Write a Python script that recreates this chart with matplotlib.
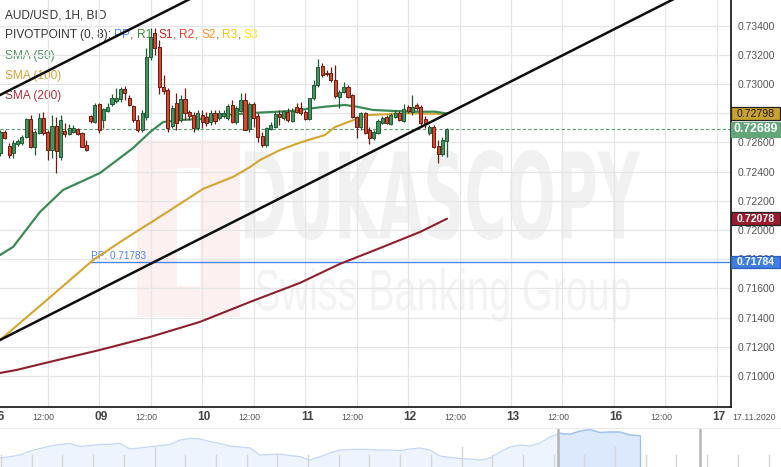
import numpy as np
import matplotlib
matplotlib.use("Agg")
import matplotlib.pyplot as plt
from matplotlib.patches import Rectangle, PathPatch
from matplotlib.textpath import TextPath
from matplotlib.font_manager import FontProperties
from matplotlib.transforms import Affine2D, blended_transform_factory

plt.rcParams['font.family'] = ['Liberation Sans', 'DejaVu Sans']

# ---------------- data ----------------
hours = np.arange(1, 106)   # hourly candles, hour index from 06 Nov 00:00 (weekend skipped)
opens = [0.72527, 0.72671, 0.72575, 0.72527, 0.72589, 0.72596, 0.72637, 0.72760, 0.72568, 0.72664,
         0.72767, 0.72671, 0.72548, 0.72712, 0.72500, 0.72678, 0.72657, 0.72671, 0.72691, 0.72664,
         0.72582, 0.72780, 0.72739, 0.72863, 0.72753, 0.72815, 0.72863, 0.72883, 0.72897, 0.72965,
         0.72904, 0.72849, 0.72753, 0.72685, 0.72774, 0.73185, 0.73349, 0.73253, 0.72979, 0.72959,
         0.72712, 0.72870, 0.72753, 0.72897, 0.72808, 0.72787, 0.72698, 0.72787, 0.72774, 0.72739,
         0.72801, 0.72767, 0.72780, 0.72767, 0.72856, 0.72739, 0.72815, 0.72890, 0.72691, 0.72863,
         0.72780, 0.72644, 0.72582, 0.72691, 0.72705, 0.72794, 0.72767, 0.72808, 0.72746, 0.72842,
         0.72835, 0.72808, 0.72760, 0.72904, 0.72993, 0.73123, 0.73075, 0.73075, 0.73027, 0.72911,
         0.72945, 0.72979, 0.72924, 0.72774, 0.72705, 0.72801, 0.72685, 0.72630, 0.72664, 0.72733,
         0.72774, 0.72726, 0.72774, 0.72801, 0.72746, 0.72842, 0.72808, 0.72856, 0.72842, 0.72760,
         0.72664, 0.72705, 0.72575, 0.72520, 0.72609]
highs = [0.72685, 0.72685, 0.72596, 0.72616, 0.72623, 0.72650, 0.72767, 0.72787, 0.72685, 0.72801,
         0.72808, 0.72685, 0.72787, 0.72774, 0.72787, 0.72733, 0.72726, 0.72719, 0.72698, 0.72671,
         0.72616, 0.72787, 0.72870, 0.72870, 0.72835, 0.72870, 0.72931, 0.72972, 0.72979, 0.72986,
         0.72924, 0.72856, 0.72787, 0.72822, 0.73246, 0.73384, 0.73384, 0.73301, 0.73061, 0.72972,
         0.72856, 0.72938, 0.72924, 0.72972, 0.72822, 0.72808, 0.72822, 0.72822, 0.72808, 0.72822,
         0.72822, 0.72822, 0.72822, 0.72863, 0.72890, 0.72849, 0.72938, 0.72938, 0.72876, 0.72876,
         0.72801, 0.72671, 0.72705, 0.72739, 0.72808, 0.72822, 0.72822, 0.72835, 0.72835, 0.72870,
         0.72876, 0.72822, 0.72904, 0.73027, 0.73171, 0.73144, 0.73096, 0.73116, 0.73130, 0.72959,
         0.73014, 0.72993, 0.72931, 0.72780, 0.72808, 0.72808, 0.72705, 0.72685, 0.72760, 0.72780,
         0.72787, 0.72801, 0.72822, 0.72815, 0.72863, 0.72856, 0.72924, 0.72870, 0.72856, 0.72780,
         0.72719, 0.72719, 0.72616, 0.72637, 0.72698]
lows = [0.72507, 0.72623, 0.72493, 0.72493, 0.72575, 0.72582, 0.72630, 0.72561, 0.72513, 0.72657,
        0.72650, 0.72479, 0.72493, 0.72390, 0.72479, 0.72637, 0.72650, 0.72664, 0.72650, 0.72568,
        0.72541, 0.72733, 0.72733, 0.72664, 0.72698, 0.72808, 0.72849, 0.72870, 0.72876, 0.72890,
        0.72849, 0.72739, 0.72671, 0.72671, 0.72753, 0.73164, 0.73198, 0.72931, 0.72931, 0.72671,
        0.72698, 0.72685, 0.72739, 0.72753, 0.72753, 0.72671, 0.72685, 0.72698, 0.72712, 0.72719,
        0.72726, 0.72753, 0.72767, 0.72753, 0.72733, 0.72726, 0.72808, 0.72685, 0.72671, 0.72705,
        0.72602, 0.72568, 0.72568, 0.72685, 0.72698, 0.72719, 0.72753, 0.72739, 0.72739, 0.72801,
        0.72787, 0.72753, 0.72753, 0.72890, 0.72979, 0.73048, 0.73055, 0.73014, 0.72904, 0.72835,
        0.72938, 0.72904, 0.72767, 0.72630, 0.72685, 0.72657, 0.72589, 0.72616, 0.72657, 0.72726,
        0.72726, 0.72719, 0.72767, 0.72746, 0.72739, 0.72801, 0.72787, 0.72822, 0.72719, 0.72698,
        0.72650, 0.72561, 0.72459, 0.72507, 0.72500]
closes = [0.72671, 0.72630, 0.72513, 0.72596, 0.72609, 0.72637, 0.72760, 0.72568, 0.72671, 0.72767,
          0.72664, 0.72548, 0.72712, 0.72541, 0.72753, 0.72657, 0.72698, 0.72698, 0.72657, 0.72568,
          0.72548, 0.72746, 0.72856, 0.72685, 0.72828, 0.72842, 0.72904, 0.72904, 0.72965, 0.72938,
          0.72856, 0.72753, 0.72685, 0.72801, 0.73185, 0.73322, 0.73246, 0.72979, 0.72951, 0.72698,
          0.72835, 0.72733, 0.72897, 0.72801, 0.72780, 0.72698, 0.72801, 0.72739, 0.72733, 0.72801,
          0.72746, 0.72801, 0.72801, 0.72849, 0.72739, 0.72835, 0.72890, 0.72685, 0.72863, 0.72767,
          0.72637, 0.72582, 0.72698, 0.72719, 0.72794, 0.72774, 0.72815, 0.72753, 0.72815, 0.72808,
          0.72801, 0.72760, 0.72904, 0.72993, 0.73116, 0.73061, 0.73068, 0.73027, 0.72917, 0.72945,
          0.72979, 0.72911, 0.72774, 0.72705, 0.72801, 0.72664, 0.72630, 0.72671, 0.72746, 0.72767,
          0.72733, 0.72787, 0.72801, 0.72753, 0.72828, 0.72815, 0.72842, 0.72835, 0.72733, 0.72733,
          0.72705, 0.72568, 0.72520, 0.72616, 0.72689]

sma50_h = [0.89, 3.92, 10.2, 15.6, 24.2, 31.9, 35.9, 38.9, 42.8, 47.5, 53.3, 61.0, 69.0, 72.7,
           76.6, 81.3, 84.1, 87.8, 92.5, 98.1, 102.3, 105.1]
sma50_p = [0.71829, 0.71884, 0.72124, 0.72275, 0.72391, 0.72562, 0.72672, 0.72740, 0.72754, 0.72761,
           0.72788, 0.72804, 0.72816, 0.72831, 0.72845, 0.72857, 0.72845, 0.72823, 0.72816, 0.72811,
           0.72811, 0.72798]
sma100_h = [0.89, 11.8, 22.6, 29.6, 35.9, 41.7, 48.2, 55.2, 59.2, 61.5, 66.2, 70.8, 76.6, 79.0,
            82.0, 86.7, 95.8, 105.1]
sma100_p = [0.71247, 0.71521, 0.71795, 0.71932, 0.72049, 0.72158, 0.72282, 0.72364, 0.72432, 0.72480,
            0.72549, 0.72599, 0.72651, 0.72706, 0.72740, 0.72788, 0.72800, 0.72795]
sma200_h = [0.89, 4.78, 12.5, 24.2, 35.9, 47.5, 59.2, 70.8, 80.1, 89.5, 98.8, 105.1]
sma200_p = [0.71021, 0.71042, 0.71097, 0.71179, 0.71268, 0.71371, 0.71508, 0.71638, 0.71768, 0.71877,
            0.71987, 0.72078]

trend_low_h = [0.886, 157.5]
trend_low_p = [0.71247, 0.73576]
trend_up_h = [0.886, 44.7]
trend_up_p = [0.72925, 0.73576]

pp_value = 0.71783
pp_start_h = 22
last_price = 0.72689

box_values = [0.72798, 0.72689, 0.72078, 0.71784]
box_texts = ["0.72798", "0.72689", "0.72078", "0.71784"]

y_ticks = [0.710, 0.712, 0.714, 0.716, 0.718, 0.720, 0.722, 0.724, 0.726, 0.728, 0.730, 0.732, 0.734]
day_labels = ["06", "09", "10", "11", "12", "13", "16", "17"]
hour_label = "12:00"
date_label = "17.11.2020"

nav_values = [9, 10.3, 12, 16, 18.5, 21, 22.5, 23.5, 20.5, 21.5, 22.5, 22.7, 23.7, 18, 19, 20.3,
              21.5, 22.5, 27, 28.5, 28, 25.5, 23.5, 21, 20, 19, 12, 12.5, 12.7, 11.5, 10.3, 7,
              10.3, 14, 17, 17.5, 17.7, 17.5, 17, 17, 16.5, 18, 19, 17, 11, 9.5, 8.5, 8, 7, 9,
              15, 20, 22, 21, 24, 30, 33.7, 32.7, 36, 37.5, 34.5, 35, 35, 32, 31.3]

# ---------------- figure ----------------
W, H = 781, 467
fig = plt.figure(figsize=(W / 100, H / 100), dpi=100)
fig.patch.set_facecolor("white")

# background (pixel) axes for watermark and legend text
bg = fig.add_axes([0, 0, 1, 1], zorder=0)
bg.set_xlim(0, W)
bg.set_ylim(H, 0)
bg.axis("off")


def text_path_box(text, x0, y0, x1, y1, color, weight="bold", family="DejaVu Sans"):
    tp = TextPath((0, 0), text, size=100, prop=FontProperties(family=family, weight=weight))
    ext = tp.get_extents()
    sx = (x1 - x0) / ext.width
    sy = (y1 - y0) / ext.height
    tr = Affine2D().translate(-ext.x0, -ext.y0).scale(sx, -sy).translate(x0, y1) + bg.transData
    bg.add_patch(PathPatch(tp, transform=tr, fc=color, ec="none", zorder=0.5))


# watermark logo and text
bg.add_patch(Rectangle((137, 140), 103, 177, fc="#fcf0f0", ec="none", zorder=0.4))
bg.add_patch(Rectangle((177, 168), 23, 118, fc="white", ec="none", zorder=0.45))
text_path_box("DUKASCOPY", 245, 150, 640, 240, "#f1f1f1", weight="bold", family="DejaVu Sans")
text_path_box("Swiss Banking Group", 256, 268, 630, 322, "#f3f3f3", weight="normal", family="Liberation Sans")

# main axes
ax = fig.add_axes([0, 60 / H, 731 / W, 407 / H], zorder=2)
ax.patch.set_alpha(0)
ax.set_xlim(0.886, 171.28)
ax.set_ylim(0.70788, 0.73576)

for s in ["top", "left"]:
    ax.spines[s].set_visible(False)
for s in ["right", "bottom"]:
    ax.spines[s].set_color("#111111")
    ax.spines[s].set_linewidth(1.2)

# grid
for v in y_ticks:
    ax.axhline(v, color="#e6e6e6", lw=0.9, zorder=1)
for k in range(1, 15):
    ax.axvline(12 * k, color="#e6e6e6", lw=0.9, zorder=1)

# y tick labels on the right
ax.yaxis.tick_right()
ax.set_yticks(y_ticks)
ax.set_yticklabels([f"{v:.5f}" for v in y_ticks])
ax.tick_params(axis="y", length=0, pad=5, labelsize=7.5, labelcolor="#555555")
ax.set_xticks([])

# x labels
tx = blended_transform_factory(ax.transData, ax.transAxes)
ylab = -10.5 / 407
for k, lab in enumerate(day_labels):
    ax.text(24 * k + 0.5, ylab, lab, transform=tx, ha="center", va="center",
            fontsize=8.6, fontweight="bold", color="#444444", clip_on=False)
    if k < len(day_labels) - 1:
        ax.text(24 * k + 11, ylab, hour_label, transform=tx, ha="center", va="center",
                fontsize=6.3, color="#555555", clip_on=False)
ax.text(176.6, ylab, date_label, transform=tx, ha="center", va="center",
        fontsize=6.3, color="#555555", clip_on=False)

# SMA lines
ax.plot(sma200_h, sma200_p, color="#8e1f2d", lw=1.5, zorder=3, solid_capstyle="round")
ax.plot(sma100_h, sma100_p, color="#d4a530", lw=1.5, zorder=3, solid_capstyle="round")
ax.plot(sma50_h, sma50_p, color="#3c8a55", lw=1.6, zorder=3, solid_capstyle="round")

# current price dashed line
ax.axhline(last_price, color="#5a9d70", lw=0.8, ls=(0, (3, 2)), zorder=2)

# pivot point
ax.plot([pp_start_h, 171.28], [pp_value, pp_value], color="#4a86e8", lw=1.0, zorder=2)
ax.text(pp_start_h, pp_value + 0.00005, f"PP: {pp_value:.5f}", color="#4a86e8",
        fontsize=7.2, ha="left", va="bottom", zorder=2)

# candles
g_fill, g_edge = "#44945f", "#1f5a35"
r_fill, r_edge = "#cf4a2f", "#701a10"
bw = 0.72
for h, o, hi, lo, c in zip(hours, opens, highs, lows, closes):
    up = c >= o
    fc, ec = (g_fill, g_edge) if up else (r_fill, r_edge)
    ax.plot([h, h], [lo, hi], color=ec, lw=0.9, zorder=4, solid_capstyle="butt")
    ax.add_patch(Rectangle((h - bw / 2, min(o, c)), bw, max(abs(c - o), 0.000015),
                           fc=fc, ec=ec, lw=0.7, zorder=5))

# trend lines (extended)
def extend(hs, ps):
    slope = (ps[1] - ps[0]) / (hs[1] - hs[0])
    x = np.array([0.0, 172.0])
    return x, ps[0] + slope * (x - hs[0])

xl, yl = extend(trend_low_h, trend_low_p)
ax.plot(xl, yl, color="#0d0d0d", lw=1.8, zorder=6)
xu, yu = extend(trend_up_h, trend_up_p)
ax.plot(xu, yu, color="#0d0d0d", lw=1.8, zorder=6)

# price boxes on the right axis
tb = blended_transform_factory(ax.transAxes, ax.transData)
box_w = 49 / 731
specs = [
    dict(fc="#c9a12e", ec="#222222", tc="#1a1a1a", fw="normal", fs=7.6, hpx=13),
    dict(fc="#62a67a", ec="#62a67a", tc="white", fw="bold", fs=8.8, hpx=15),
    dict(fc="#9a1c2e", ec="#222222", tc="white", fw="bold", fs=7.6, hpx=13),
    dict(fc="#3f7fe3", ec="#2a5fb8", tc="white", fw="bold", fs=7.6, hpx=12),
]
px_per_price = 407 / (0.73576 - 0.70788)
for v, t, sp in zip(box_values, box_texts, specs):
    hp = sp["hpx"] / px_per_price
    ax.add_patch(Rectangle((1.0, v - hp / 2), box_w, hp, transform=tb, fc=sp["fc"],
                           ec=sp["ec"], lw=0.9, clip_on=False, zorder=8))
    ax.text(1.0 + box_w / 2, v, t, transform=tb, ha="center", va="center", color=sp["tc"],
            fontsize=sp["fs"], fontweight=sp["fw"], clip_on=False, zorder=9)

# legend text (top-left)
renderer = fig.canvas.get_renderer()
lx = 5
bg.text(lx, 15, "AUD/USD, 1H, BID", fontsize=8.6, color="#333333", va="center", ha="left", zorder=10)
pieces = [("PIVOTPOINT (0, 8): ", "#333333"), ("PP", "#4a8af4"), (", ", "#555555"),
          ("R1", "#3d8b3d"), (", ", "#555555"), ("S1", "#c62828"), (", ", "#555555"),
          ("R2", "#f03c36"), (", ", "#555555"), ("S2", "#ff8f1f"), (", ", "#555555"),
          ("R3", "#ffc10a"), (", ", "#555555"), ("S3", "#ffe600")]
x = lx
for s, c in pieces:
    t = bg.text(x, 35, s, fontsize=8.6, color=c, va="center", ha="left", zorder=10)
    x += t.get_window_extent(renderer=renderer).width
bg.text(lx, 56, "SMA (50)", fontsize=8.6, color="#4a9160", va="center", ha="left", zorder=10)
bg.text(lx, 76, "SMA (100)", fontsize=8.6, color="#d4a43a", va="center", ha="left", zorder=10)
bg.text(lx, 96, "SMA (200)", fontsize=8.6, color="#a8323f", va="center", ha="left", zorder=10)

# navigator strip
nav = fig.add_axes([0, 0, 1, 39 / H], zorder=1)
nav.set_xlim(0, 78.1)
nav.set_ylim(0, 39)
nav.axis("off")
nav_x = np.arange(len(nav_values), dtype=float)
nav_v = np.array(nav_values, dtype=float)
nav.fill_between(nav_x, 0, nav_v, color="#eef4fd", lw=0)
nav.plot(nav_x, nav_v, color="#c3d7f6", lw=0.9)
sel0, sel1 = 55.8, nav_x[-1]
mask = nav_x >= sel0
xs = np.concatenate([[sel0], nav_x[mask]])
vs = np.concatenate([[np.interp(sel0, nav_x, nav_v)], nav_v[mask]])
nav.fill_between(xs, 0, vs, color="#dce8fb", lw=0)
nav.plot(xs, vs, color="#9dbff1", lw=0.9)
nav.plot([sel1, sel1], [0, nav_v[-1]], color="#9dbff1", lw=0.9)
for k in range(26):
    p = 0.1 + 3.07 * k
    top = 20 if k in (5, 15, 20) else 12
    nav.plot([p, p], [0, top], color="#d5d5d5", lw=1.0)
for p in (55.8, 70.0):
    nav.plot([p, p], [0, 39], color="#b5b5b5", lw=1.8)
nav.axhline(38.6, color="#e8e8e8", lw=0.8)

fig.savefig("out.png", dpi=100)
